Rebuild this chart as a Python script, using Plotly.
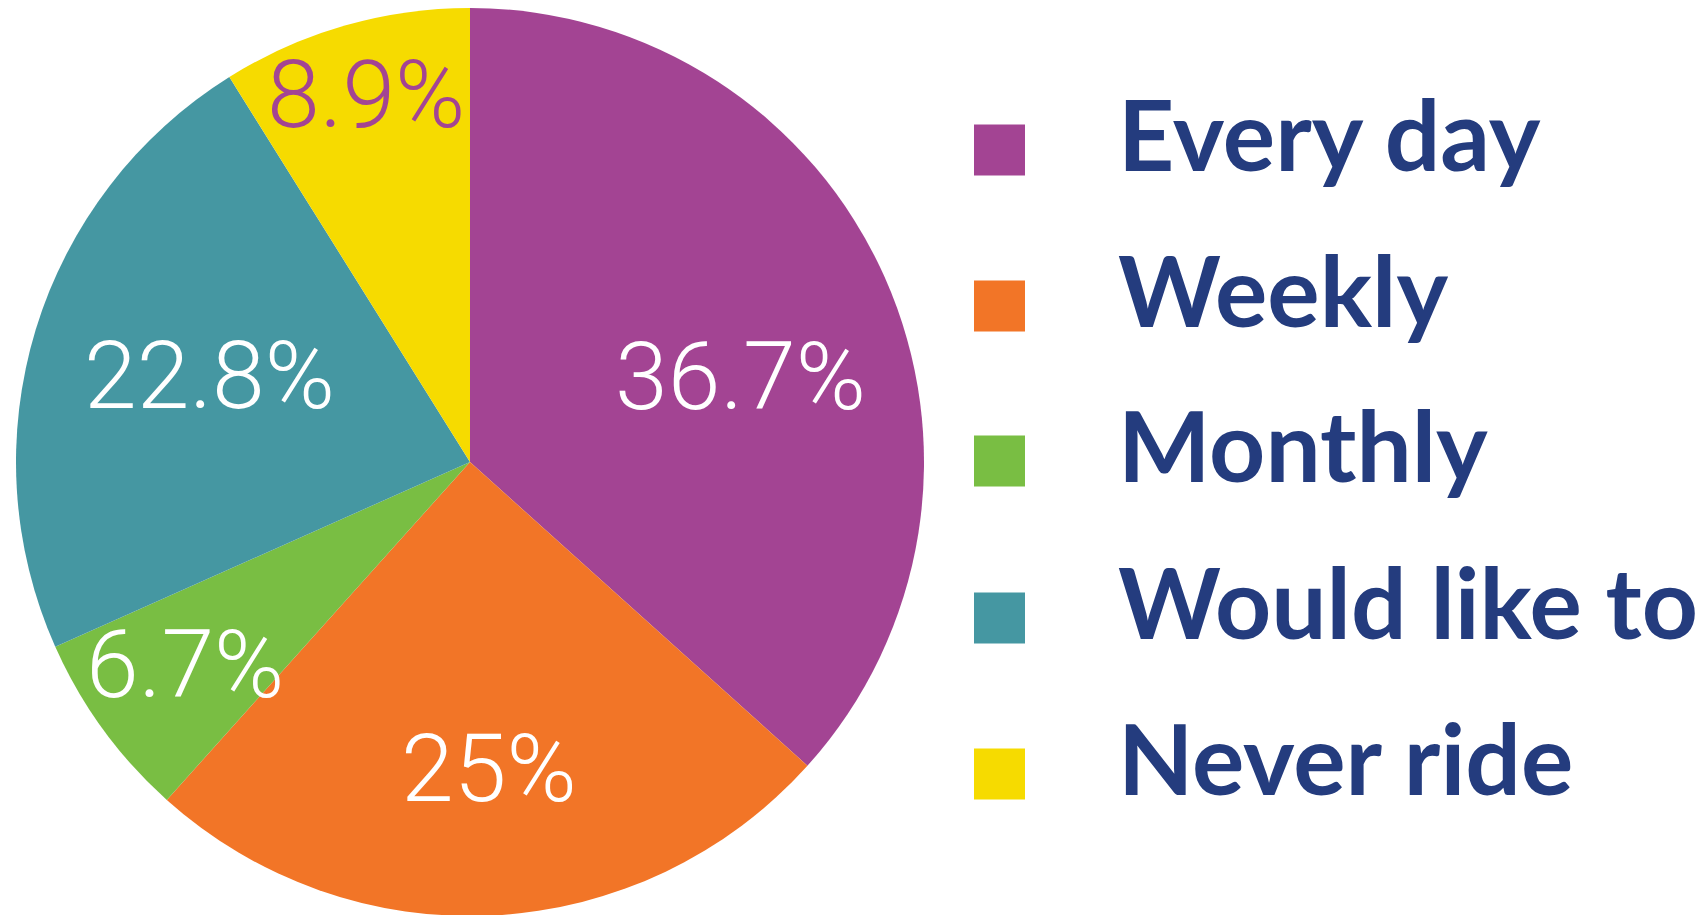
import plotly.graph_objects as go

categories = ["Every day", "Weekly", "Monthly", "Would like to", "Never ride"]
values = [36.7, 25, 6.7, 22.8, 8.9]
label_texts = ["36.7%", "25%", "6.7%", "22.8%", "8.9%"]
colors = ["#A34493", "#F27527", "#79BE43", "#4597A2", "#F6DB00"]
label_colors = ["white", "white", "white", "white", "#A34493"]

# The page body has an 8px margin; coordinates below are page pixels.
OFF = 8
W, H = 1706 - OFF, 910


def px(x):
    return (x - OFF) / W


def py(y):
    return 1 - (y - OFF) / H


CX, CY, R = 470, 462, 454
label_pos = [(740, 376), (489, 768), (185, 664), (209, 375), (366, 94)]
row_y = [150, 306, 461, 618, 774]

fig = go.Figure()
fig.add_trace(go.Pie(
    labels=categories, values=values, sort=False, direction="clockwise",
    rotation=0, marker=dict(colors=colors, line=dict(width=0)),
    textinfo="none", hoverinfo="label+value", showlegend=False,
    domain=dict(x=[px(CX - R), px(CX + R)], y=[py(CY + R), py(CY - R)]),
))

annotations = []
for txt, col, (lx, ly) in zip(label_texts, label_colors, label_pos):
    annotations.append(dict(
        x=px(lx), y=py(ly), xref="paper", yref="paper", text=txt,
        showarrow=False, xanchor="center", yanchor="middle",
        font=dict(family="Roboto", size=95, color=col, weight=300),
    ))

shapes = []
for cat, col, ry in zip(categories, colors, row_y):
    shapes.append(dict(
        type="rect", xref="paper", yref="paper",
        x0=px(974), x1=px(1025), y0=py(ry + 25.5), y1=py(ry - 25.5),
        fillcolor=col, line=dict(width=0),
    ))
    annotations.append(dict(
        x=px(1116), y=py(ry - 17), xref="paper", yref="paper", text=cat,
        showarrow=False, xanchor="left", yanchor="middle",
        font=dict(family="Lato", size=98, color="#243C7E", weight=700),
    ))

fig.update_layout(
    width=W, height=H, margin=dict(l=0, r=0, t=0, b=0),
    paper_bgcolor="white", plot_bgcolor="white",
    annotations=annotations, shapes=shapes,
)
fig.write_html("out.html")
